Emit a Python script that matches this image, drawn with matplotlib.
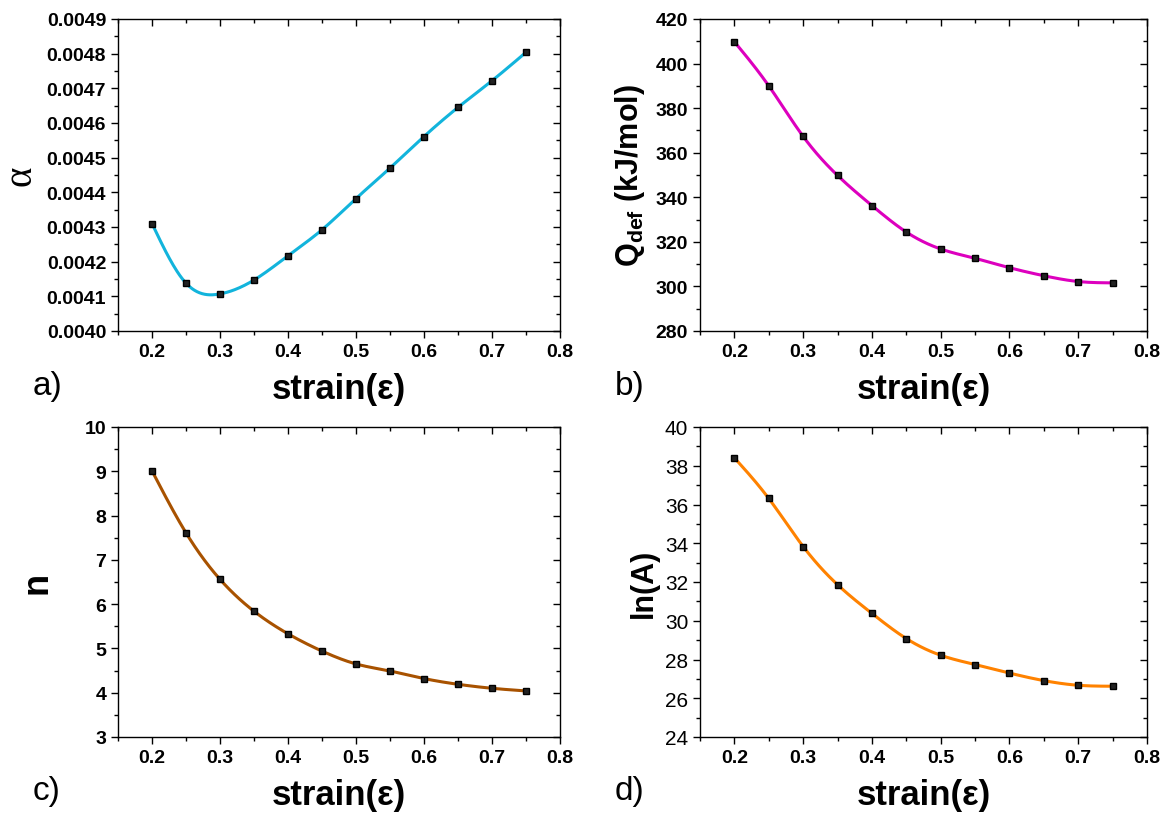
import numpy as np
import matplotlib
matplotlib.use("Agg")
import matplotlib.pyplot as plt
from matplotlib.ticker import MultipleLocator, FormatStrFormatter

plt.rcParams['font.family'] = ['Liberation Sans', 'DejaVu Sans']
plt.rcParams['mathtext.fontset'] = 'custom'
plt.rcParams['mathtext.rm'] = 'Liberation Sans:bold'
plt.rcParams['mathtext.bf'] = 'Liberation Sans:bold'

# data
strain = [0.20, 0.25, 0.30, 0.35, 0.40, 0.45, 0.50, 0.55, 0.60, 0.65, 0.70, 0.75]
alpha = [0.004310, 0.004138, 0.004107, 0.004147, 0.004217, 0.004292,
         0.004382, 0.004470, 0.004561, 0.004645, 0.004722, 0.004804]
q_def = [409.8, 390.0, 367.3, 349.8, 336.3, 324.4, 316.8, 312.6, 308.4, 304.8, 302.2, 301.6]
n_val = [9.01, 7.61, 6.56, 5.84, 5.33, 4.94, 4.65, 4.49, 4.32, 4.19, 4.10, 4.04]
ln_a = [38.41, 36.31, 33.83, 31.86, 30.38, 29.08, 28.22, 27.74, 27.30, 26.91, 26.67, 26.62]


def spline(x, y, num=300):
    # natural cubic spline, like Origin's spline connect
    x = np.asarray(x, float)
    y = np.asarray(y, float)
    n = len(x)
    h = np.diff(x)
    A = np.zeros((n, n))
    b = np.zeros(n)
    A[0, 0] = A[-1, -1] = 1
    for i in range(1, n - 1):
        A[i, i - 1] = h[i - 1]
        A[i, i] = 2 * (h[i - 1] + h[i])
        A[i, i + 1] = h[i]
        b[i] = 3 * ((y[i + 1] - y[i]) / h[i] - (y[i] - y[i - 1]) / h[i - 1])
    c = np.linalg.solve(A, b)
    xs = np.linspace(x[0], x[-1], num)
    idx = np.clip(np.searchsorted(x, xs) - 1, 0, n - 2)
    dx = xs - x[idx]
    bb = (y[1:] - y[:-1]) / h - h * (2 * c[:-1] + c[1:]) / 3
    d = (c[1:] - c[:-1]) / (3 * h)
    ys = y[idx] + bb[idx] * dx + c[idx] * dx**2 + d[idx] * dx**3
    return xs, ys


fig = plt.figure(figsize=(11.69, 8.28), dpi=100)

W, H = 1169, 828
panels = [
    # (left, top, right, bottom) in px
    (118, 20, 560, 332),
    (700, 20, 1147, 332),
    (118, 428, 560, 738),
    (700, 428, 1147, 738),
]
series = [alpha, q_def, n_val, ln_a]
colors = ['#12B4DC', '#DD00BE', '#A85200', '#FF8200']
ylims = [(0.0040, 0.0049), (280, 420), (3, 10), (24, 40)]
ymaj = [0.0001, 20, 1, 2]
ymin = [0.00005, 10, 0.5, 1]
yfmt = ['%.4f', '%d', '%d', '%d']
tags = ['a)', 'b)', 'c)', 'd)']

for k, (l, t, r, bt) in enumerate(panels):
    ax = fig.add_axes([l / W, 1 - bt / H, (r - l) / W, (bt - t) / H])
    xs, ys = spline(strain, series[k])
    ax.plot(xs, ys, color=colors[k], lw=2.2, zorder=2)
    ax.plot(strain, series[k], 's', color='black', ms=4.5, mfc='#222222', zorder=3)
    ax.set_xlim(0.15, 0.8)
    ax.set_ylim(*ylims[k])
    ax.xaxis.set_major_locator(MultipleLocator(0.1))
    ax.xaxis.set_minor_locator(MultipleLocator(0.05))
    ax.yaxis.set_major_locator(MultipleLocator(ymaj[k]))
    ax.yaxis.set_minor_locator(MultipleLocator(ymin[k]))
    ax.xaxis.set_major_formatter(FormatStrFormatter('%.1f'))
    ax.yaxis.set_major_formatter(FormatStrFormatter(yfmt[k]))
    ax.tick_params(which='both', direction='out', top=True, right=True, width=1.0)
    ax.tick_params(which='major', length=5)
    ax.tick_params(which='minor', length=3)
    for sp in ax.spines.values():
        sp.set_linewidth(1.0)
    # top/right ticks point inward
    for tk in ax.xaxis.get_major_ticks() + ax.xaxis.get_minor_ticks():
        tk.tick2line.set_marker(3)
    for tk in ax.yaxis.get_major_ticks() + ax.yaxis.get_minor_ticks():
        tk.tick2line.set_marker(0)
    for lab in ax.get_xticklabels() + ax.get_yticklabels():
        lab.set_fontsize(14)
        lab.set_fontweight('bold')
    if k == 3:
        for lab in ax.get_yticklabels():
            lab.set_fontweight('normal')
            lab.set_fontsize(15)
    ax.set_xlabel('strain(ε)', fontsize=25, fontweight='bold', labelpad=9)
    fig.text((l - 85) / W, 1 - (bt + 54) / H, tags[k], fontsize=24,
             ha='left', va='center')

axes = fig.axes
axes[0].set_ylabel('α', fontsize=28, family='Liberation Serif', labelpad=5)
axes[1].set_ylabel(r'$\mathbf{Q_{def}}$ (kJ/mol)', fontsize=22, fontweight='bold', labelpad=6)
axes[2].set_ylabel('n', fontsize=26, fontweight='bold', labelpad=22)
axes[3].set_ylabel('ln(A)', fontsize=22, fontweight='bold', labelpad=4)

fig.savefig('out.png', dpi=100)
